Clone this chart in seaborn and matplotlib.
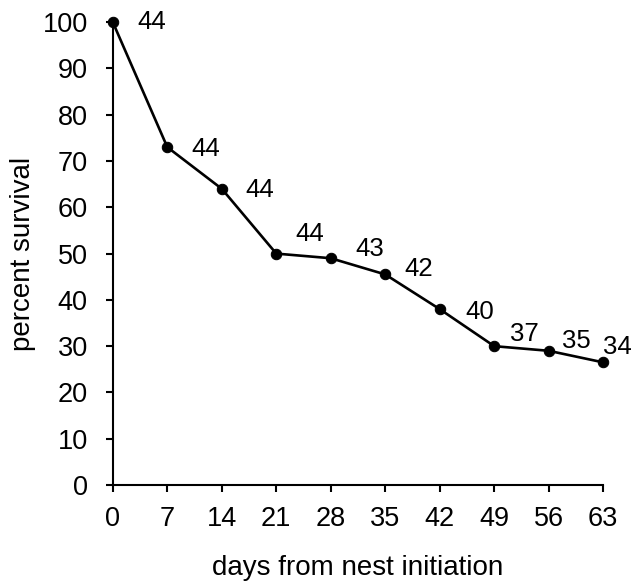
import matplotlib
matplotlib.use("Agg")
import pandas as pd
import seaborn as sns
import matplotlib.pyplot as plt

days = [0, 7, 14, 21, 28, 35, 42, 49, 56, 63]
survival = [100, 73, 64, 50, 49, 45.5, 38, 30, 29, 26.5]
nests = [44, 44, 44, 44, 43, 42, 40, 37, 35, 34]
tickDays = [0, 7, 14, 21, 28, 35, 42, 49, 56, 63]
tickPct = list(range(0, 101, 10))

# label offsets (points) right of each marker
labelDx = [28, 28, 27, 24, 28, 24, 29, 22, 20, 10]
labelDy = [0, -1, -1, 14, 7, 4, -2, 9, 7, 11]

dfSurv = pd.DataFrame({'days': days, 'survival': survival})

sns.set_style('ticks')
plt.rcParams['font.family'] = ['Liberation Sans', 'DejaVu Sans']
plt.rcParams['text.color'] = 'black'
plt.rcParams['axes.labelcolor'] = 'black'
plt.rcParams['xtick.color'] = 'black'
plt.rcParams['ytick.color'] = 'black'

fig = plt.figure(figsize=(6.41, 5.84), dpi=100)
ax = fig.add_axes([0.176, 0.1695, 0.765, 0.7925])
sns.lineplot(data=dfSurv, x='days', y='survival', color='black', linewidth=1.9,
             marker='o', markersize=7.5, markeredgecolor='black', ax=ax, clip_on=False)

for d, s, n, dx, dy in zip(days, survival, nests, labelDx, labelDy):
    ax.annotate(str(n), (d, s), xytext=(dx, dy), textcoords='offset points',
                ha='center', va='center', fontsize=18.5, color='black')

ax.set_xlim(0, 63)
ax.set_ylim(0, 100)
ax.set_xticks(tickDays)
ax.set_yticks(tickPct)
ax.tick_params(axis='both', direction='out', length=5, width=1.5, labelsize=19.5)
ax.tick_params(axis='y', pad=13)
ax.tick_params(axis='x', pad=10)
ax.set_xlabel('days from nest initiation', fontsize=20, labelpad=17)
ax.set_ylabel('percent survival', fontsize=20, labelpad=5)
for side in ['top', 'right']:
    ax.spines[side].set_visible(False)
for side in ['left', 'bottom']:
    ax.spines[side].set_linewidth(1.5)
    ax.spines[side].set_color('black')

plt.savefig('out.png', dpi=100)
